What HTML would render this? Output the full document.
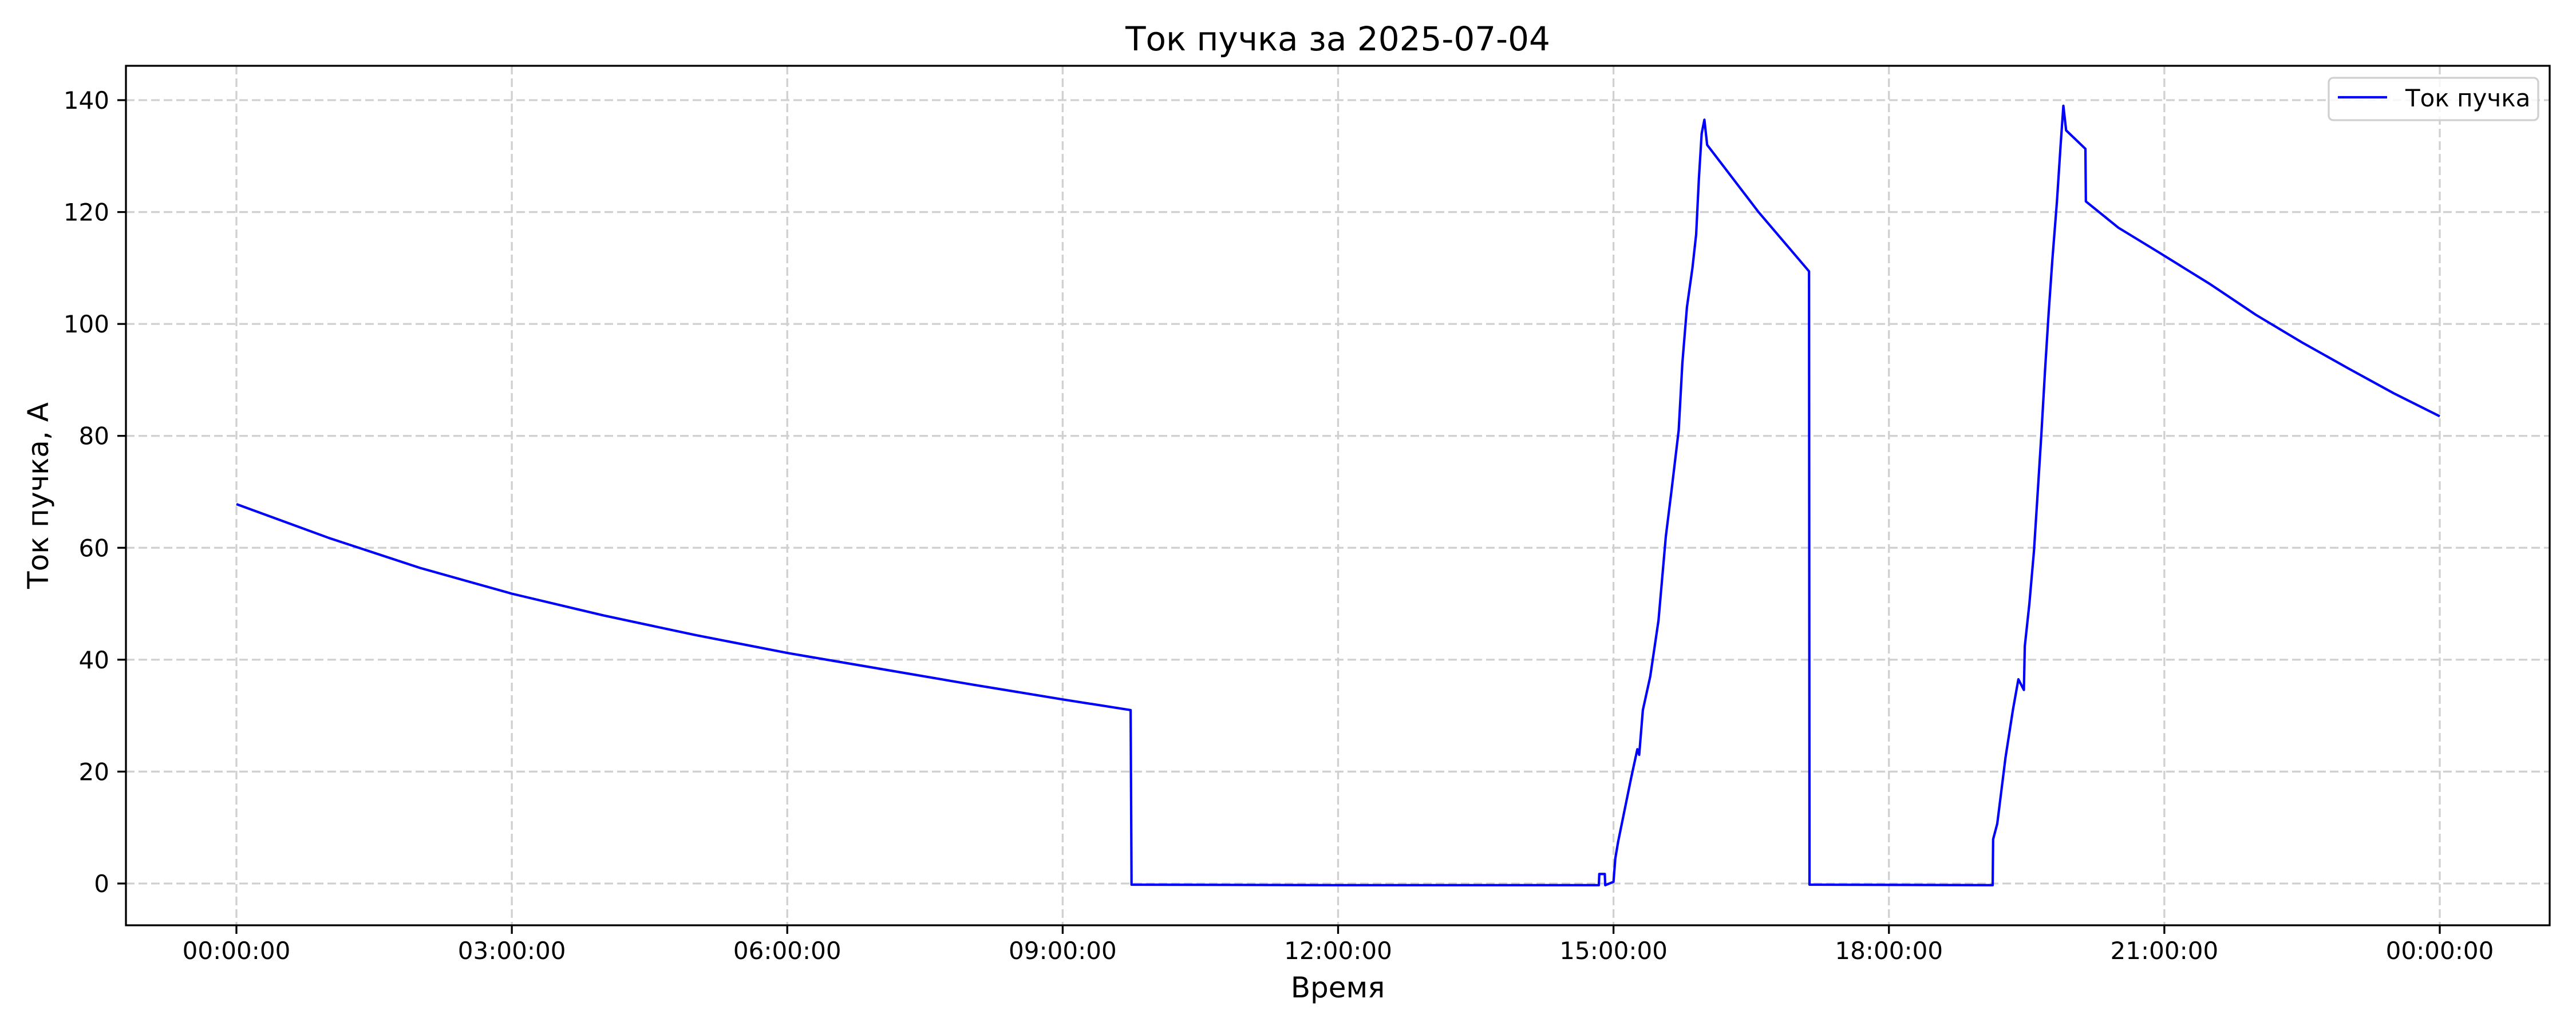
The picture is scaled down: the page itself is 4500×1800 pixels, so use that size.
<!DOCTYPE html>
<html><head><meta charset="utf-8"><style>
html,body{margin:0;padding:0;background:#fff;}
svg{display:block;font-family:"DejaVu Sans","Liberation Sans",sans-serif;}
</style></head><body>
<svg id="chart" width="4500" height="1800" viewBox="0 0 4500 1800" xmlns="http://www.w3.org/2000/svg">
<rect x="0" y="0" width="4500" height="1800" fill="#fff"/>
<text x="2337" y="88" font-size="58" text-anchor="middle">Ток пучка за 2025-07-04</text>
<g id="grid"></g>
<g id="series"></g>
<rect x="220" y="115" width="4234" height="1502" fill="none" stroke="#000" stroke-width="3.3"/>
<g id="ticks"></g>
<text x="2337" y="1743" font-size="50" text-anchor="middle">Время</text>
<text x="84" y="866" font-size="50" text-anchor="middle" transform="rotate(-90 84 866)">Ток пучка, А</text>
<g>
<rect x="4068" y="136" width="366" height="74" rx="8" fill="#fff" fill-opacity="0.8" stroke="#d0d0d0" stroke-width="3.3"/>
<line x1="4084" y1="170" x2="4170" y2="170" stroke="#0000ff" stroke-width="4.2"/>
<text x="4202" y="186" font-size="42">Ток пучка</text>
</g>
</svg>
<script>
const xTickHours = [0,3,6,9,12,15,18,21,24];
const xTickLabels = ["00:00:00","03:00:00","06:00:00","09:00:00","12:00:00","15:00:00","18:00:00","21:00:00","00:00:00"];
const yTicks = [0,20,40,60,80,100,120,140];
const timesH = [0,1,2,3,4,5,6,7,8,9,9.74,9.75,12,14.84,14.845,14.905,14.91,15.0,15.02,15.05,15.19,15.26,15.28,15.32,15.40,15.49,15.57,15.63,15.71,15.75,15.80,15.86,15.90,15.93,15.96,15.99,16.02,16.3,16.58,17.13,17.135,19.12,19.13,19.135,19.18,19.27,19.35,19.41,19.47,19.48,19.53,19.58,19.62,19.66,19.70,19.74,19.78,19.83,19.87,19.90,19.93,20.14,20.145,20.5,20.93,21.5,22,22.5,23,23.5,24];
const currentA = [67.8,61.8,56.4,51.8,47.9,44.4,41.2,38.4,35.6,32.9,31.0,-0.2,-0.3,-0.3,1.7,1.7,-0.3,0.3,4.5,7.4,18.7,24,23,31,37,47,62,70,81,93,103,110,116,126,134,136.5,132,126,120,109.4,-0.2,-0.3,-0.3,7.9,10.7,22.5,31,36.5,34.6,42.4,50,59.4,69.8,80.2,91.6,102,111.4,121.8,132,139,134.6,131.3,121.9,117.2,112.9,107.1,101.6,96.7,92.1,87.6,83.5];

const NS="http://www.w3.org/2000/svg";
const X0=413, X1=4262, Y0=1544, Y140=175;
function xScale(h){return X0+(X1-X0)*h/24;}
function yScale(v){return Y0-(Y0-Y140)*v/140;}
function mk(tag,attrs,parent){const e=document.createElementNS(NS,tag);for(const k in attrs)e.setAttribute(k,attrs[k]);parent.appendChild(e);return e;}
const grid=document.getElementById('grid'), ticks=document.getElementById('ticks'), series=document.getElementById('series');
xTickHours.forEach((h,i)=>{
  const x=xScale(h);
  const g=mk('line',{x1:x,y1:115,x2:x,y2:1617,stroke:'#d0d0d0','stroke-width':3.3,'stroke-dasharray':'15 7'},grid);
  
  
  const t=mk('line',{x1:x,y1:1617,x2:x,y2:1632,stroke:'#000','stroke-width':3.3},ticks);
  
  
  const l=mk('text',{x:x,y:1676,'font-size':42,'text-anchor':'middle'},ticks);
  l.textContent=xTickLabels[i];
  
  
});
yTicks.forEach(v=>{
  const y=yScale(v);
  const g=mk('line',{x1:220,y1:y,x2:4454,y2:y,stroke:'#d0d0d0','stroke-width':3.3,'stroke-dasharray':'15 7'},grid);
  
  
  const t=mk('line',{x1:205,y1:y,x2:220,y2:y,stroke:'#000','stroke-width':3.3},ticks);
  
  
  const l=mk('text',{x:191,y:y+15,'font-size':42,'text-anchor':'end'},ticks);
  l.textContent=String(v);
  
  
});
const pts=timesH.map((h,i)=>xScale(h).toFixed(1)+','+yScale(currentA[i]).toFixed(1)).join(' ');
const line=mk('polyline',{points:pts,fill:'none',stroke:'#0000ff','stroke-width':4.2,'stroke-linejoin':'round'},series);


</script>
</body></html>
